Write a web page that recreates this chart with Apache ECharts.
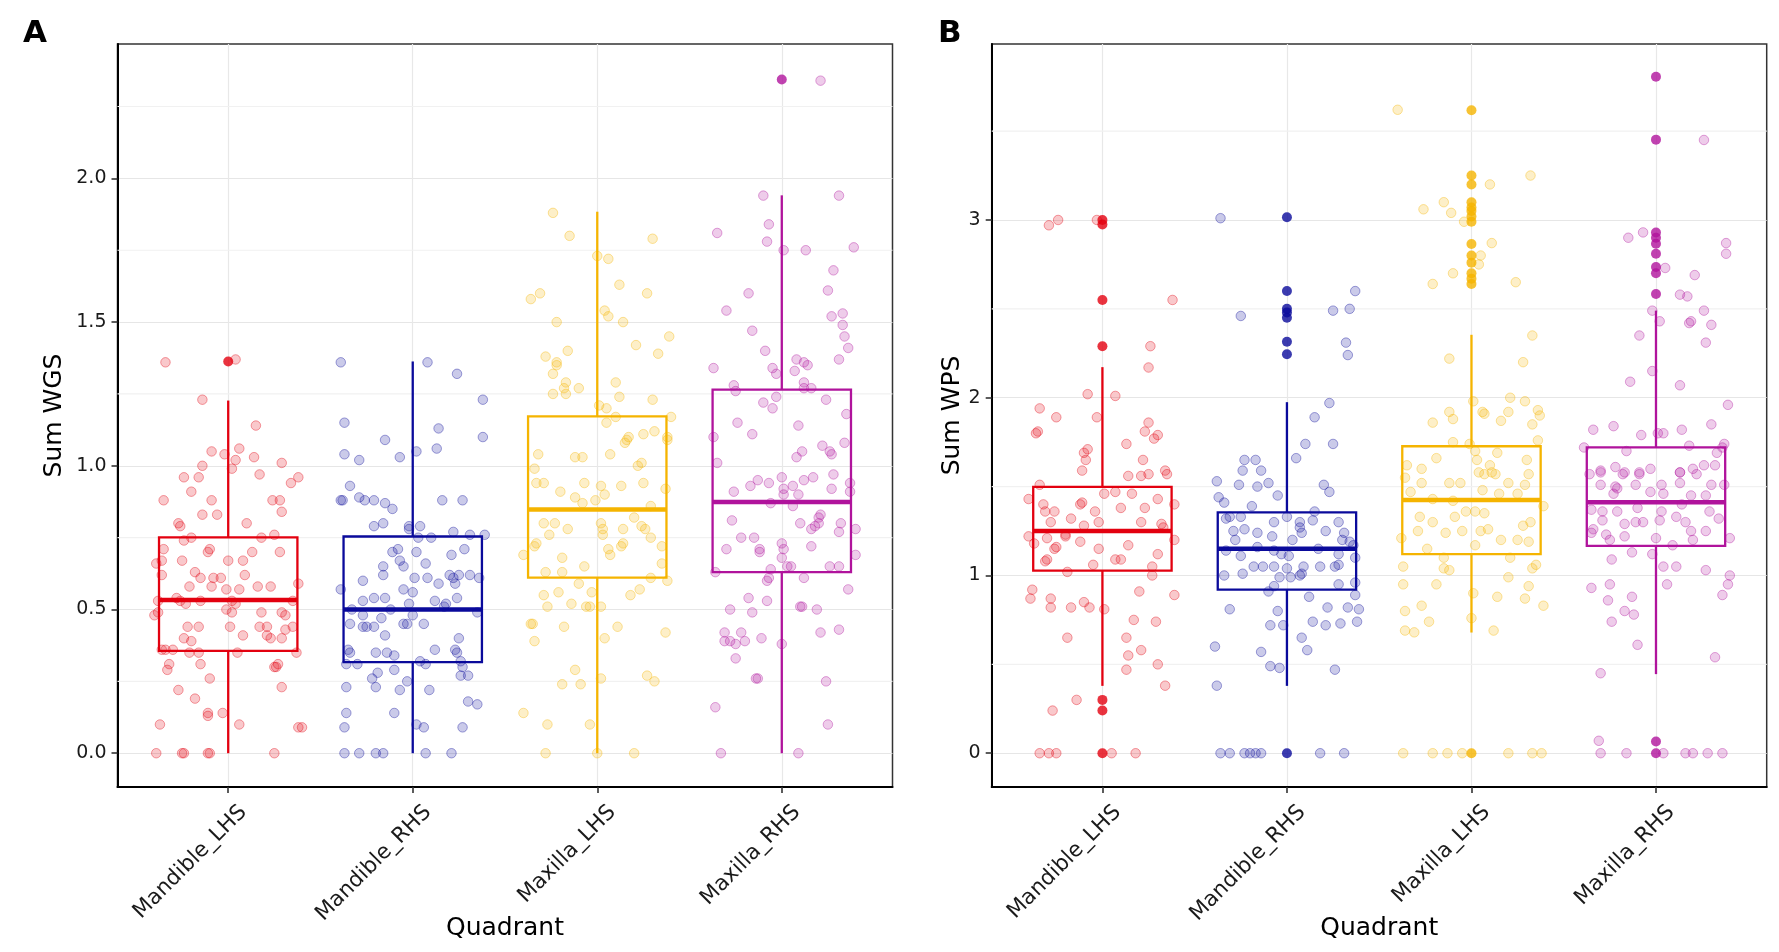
<!DOCTYPE html>
<html>
<head>
<meta charset="utf-8">
<title>Sum WGS / Sum WPS by quadrant</title>
<script src="https://cdn.jsdelivr.net/npm/echarts@6.0.0/dist/echarts.min.js"></script>
<style>
html, body { margin: 0; padding: 0; background: #fff; }
#main { width: 1779px; height: 952px; }
</style>
</head>
<body>
<div id="main"></div>
<script>
// categories
var quadrants = ['Mandible_LHS', 'Mandible_RHS', 'Maxilla_LHS', 'Maxilla_RHS'];
var palette = ['#E3000F', '#0A0A9B', '#F5B400', '#B0139C'];

// box stats per quadrant: [lower whisker, Q1, median, Q3, upper whisker]
var wgsBoxes = [
    [0, 0.356, 0.533, 0.751, 1.227],
    [0, 0.317, 0.500, 0.754, 1.363],
    [0, 0.611, 0.848, 1.172, 1.884],
    [0, 0.630, 0.874, 1.265, 1.941]
];
var wpsBoxes = [
    [0.379, 1.027, 1.250, 1.498, 2.172],
    [0.379, 0.920, 1.150, 1.355, 1.975],
    [0.679, 1.120, 1.425, 1.727, 2.354],
    [0.445, 1.167, 1.412, 1.721, 2.490]
];

// outliers: [quadrant index, value]
var wgsOutliers = [[0, 1.363], [3, 2.344]];
var wpsOutliers = [
    [0, 3.0], [0, 2.975], [0, 2.55], [0, 2.29], [0, 0.30], [0, 0.24], [0, 0],
    [1, 3.015], [1, 2.60], [1, 2.50], [1, 2.48], [1, 2.45], [1, 2.315], [1, 2.245], [1, 0],
    [2, 3.617], [2, 3.25], [2, 3.20], [2, 3.10], [2, 3.07], [2, 3.05], [2, 3.02], [2, 2.99],
    [2, 2.865], [2, 2.80], [2, 2.76], [2, 2.70], [2, 2.67], [2, 2.64], [2, 0],
    [3, 3.806], [3, 3.452], [3, 2.93], [3, 2.90], [3, 2.866], [3, 2.81], [3, 2.735], [3, 2.70], [3, 2.584], [3, 0.066], [3, 0]
];

// jittered points: [horizontal jitter (category units), value]
var wgsMandibleLHS = [[-0.34,1.36],[0.04,1.37],[-0.14,1.23],[0.15,1.14],[-0.09,1.05],[0.06,1.06],[-0.02,1.04],[0.14,1.03],[0.29,1.01],[0.04,1.02],[-0.14,1.0],[0.02,0.99],
    [-0.24,0.96],[-0.16,0.96],[0.17,0.97],[0.38,0.96],[0.34,0.94],[-0.2,0.91],[-0.35,0.88],[-0.09,0.88],[0.24,0.88],[0.28,0.88],[-0.14,0.83],[-0.06,0.83],[0.29,0.84],[0.1,0.8],[-0.27,0.8],[-0.26,0.79],
    [-0.2,0.75],[0.18,0.75],[0.25,0.76],[-0.24,0.74],[-0.35,0.71],[-0.1,0.71],[-0.11,0.7],[0.13,0.7],[0.28,0.7],[-0.25,0.67],[-0.39,0.66],[-0.36,0.67],[0.0,0.67],[0.08,0.67],[-0.18,0.63],[-0.36,0.62],
    [0.09,0.62],[-0.15,0.61],[-0.08,0.61],[-0.04,0.61],[0.38,0.59],[-0.21,0.58],[-0.09,0.58],[-0.01,0.57],[0.06,0.57],[0.16,0.58],[0.23,0.58],[-0.28,0.54],[-0.26,0.53],[-0.15,0.53],[0.02,0.53],
    [-0.38,0.53],[0.35,0.53],[-0.23,0.52],[0.04,0.52],[-0.38,0.49],[-0.4,0.48],[-0.01,0.5],[0.02,0.49],[0.18,0.49],[0.29,0.49],[0.31,0.48],[-0.22,0.44],[-0.16,0.44],[0.01,0.44],[0.17,0.44],
    [0.21,0.44],[0.35,0.44],[0.31,0.43],[0.08,0.41],[0.21,0.41],[0.23,0.4],[-0.24,0.4],[-0.2,0.39],[0.29,0.4],[-0.36,0.36],[-0.34,0.36],[-0.3,0.36],[-0.21,0.35],[-0.16,0.35],[0.05,0.35],[0.37,0.35],
    [-0.32,0.31],[-0.15,0.31],[-0.33,0.29],[0.27,0.31],[0.25,0.3],[0.26,0.3],[-0.1,0.26],[-0.27,0.22],[0.29,0.23],[-0.18,0.19],[-0.11,0.14],[-0.11,0.13],[-0.03,0.14],[-0.37,0.1],[0.06,0.1],
    [0.38,0.09],[0.4,0.09],[-0.39,0],[-0.24,0],[-0.25,0],[-0.11,0],[-0.1,0],[0.25,0]];
var wgsMandibleRHS = [[-0.39,1.36],[0.08,1.36],[0.24,1.32],[0.38,1.23],[-0.37,1.15],[0.14,1.13],[-0.15,1.09],[0.38,1.1],[-0.37,1.04],[-0.29,1.02],[-0.07,1.03],[0.02,1.05],[0.13,1.06],
    [-0.34,0.93],[-0.39,0.88],[-0.38,0.88],[-0.29,0.89],[-0.26,0.88],[-0.21,0.88],[-0.15,0.87],[-0.11,0.85],[0.16,0.88],[0.27,0.88],[-0.21,0.79],[-0.16,0.8],[-0.02,0.79],[0.04,0.79],[-0.02,0.78],
    [0.22,0.77],[0.31,0.76],[0.39,0.76],[0.03,0.75],[0.1,0.75],[0.28,0.71],[-0.11,0.7],[-0.08,0.71],[0.02,0.7],[0.21,0.69],[-0.07,0.67],[0.07,0.66],[-0.16,0.65],[-0.05,0.65],[-0.27,0.6],[-0.16,0.62],
    [0.01,0.61],[0.08,0.61],[0.2,0.62],[0.25,0.62],[0.22,0.61],[0.31,0.62],[0.36,0.61],[0.23,0.59],[0.14,0.59],[-0.39,0.57],[-0.05,0.57],[0.0,0.56],[-0.21,0.54],[-0.15,0.54],[-0.27,0.53],[0.12,0.53],
    [0.24,0.54],[0.18,0.52],[-0.02,0.52],[-0.33,0.5],[-0.12,0.5],[0.17,0.51],[0.35,0.49],[-0.27,0.48],[-0.17,0.47],[0.0,0.48],[-0.34,0.45],[-0.27,0.44],[-0.25,0.44],[-0.21,0.44],[-0.05,0.45],
    [-0.03,0.45],[0.06,0.45],[-0.15,0.41],[0.25,0.4],[0.12,0.36],[0.23,0.36],[0.24,0.35],[-0.35,0.36],[-0.34,0.35],[-0.2,0.35],[-0.14,0.35],[-0.1,0.34],[0.26,0.32],[-0.36,0.31],[-0.3,0.31],[0.04,0.32],
    [0.07,0.31],[0.27,0.3],[-0.19,0.28],[-0.1,0.29],[-0.22,0.26],[0.26,0.27],[0.3,0.27],[-0.03,0.25],[-0.36,0.23],[-0.2,0.23],[-0.07,0.22],[0.09,0.22],[0.3,0.18],[0.35,0.17],[-0.36,0.14],[-0.1,0.14],
    [0.02,0.1],[0.06,0.09],[-0.37,0.09],[0.27,0.09],[-0.37,0],[-0.29,0],[-0.2,0],[-0.16,0],[0.07,0],[0.21,0]];
var wgsMaxillaLHS = [[-0.24,1.88],[-0.15,1.8],[0.3,1.79],[0.0,1.73],[0.06,1.72],[0.12,1.63],[0.27,1.6],[-0.36,1.58],[-0.31,1.6],[0.04,1.54],[0.06,1.52],[0.14,1.5],[-0.22,1.5],[0.39,1.45],
    [0.21,1.42],[-0.16,1.4],[0.33,1.39],[-0.28,1.38],[-0.22,1.36],[-0.22,1.35],[-0.24,1.32],[-0.17,1.29],[0.1,1.29],[-0.1,1.27],[-0.18,1.27],[-0.24,1.25],[-0.17,1.25],[0.12,1.24],[0.3,1.23],
    [0.01,1.21],[0.05,1.2],[0.1,1.17],[0.4,1.17],[0.05,1.15],[0.38,1.1],[0.38,1.09],[0.31,1.12],[0.25,1.11],[0.17,1.1],[0.15,1.08],[0.16,1.09],[-0.32,1.04],[-0.12,1.03],[-0.08,1.03],[0.07,1.04],
    [0.24,1.01],[0.22,1.0],[-0.34,0.99],[-0.33,0.94],[-0.29,0.94],[-0.07,0.94],[0.02,0.93],[0.13,0.93],[0.25,0.94],[0.37,0.92],[-0.2,0.91],[-0.12,0.89],[-0.01,0.88],[0.04,0.9],[-0.08,0.87],
    [0.29,0.86],[0.2,0.82],[-0.29,0.8],[-0.23,0.8],[0.02,0.8],[0.03,0.78],[0.14,0.78],[0.24,0.79],[0.26,0.78],[-0.16,0.78],[-0.26,0.76],[0.03,0.76],[0.29,0.75],[-0.33,0.73],[-0.34,0.72],[0.14,0.73],
    [0.13,0.72],[0.35,0.72],[0.06,0.71],[0.07,0.69],[-0.4,0.69],[-0.19,0.68],[0.35,0.66],[-0.07,0.65],[-0.28,0.63],[-0.19,0.63],[0.29,0.61],[0.38,0.6],[0.23,0.57],[-0.1,0.59],[-0.21,0.56],
    [-0.03,0.56],[0.18,0.55],[-0.29,0.55],[-0.27,0.51],[-0.14,0.52],[-0.06,0.51],[-0.04,0.51],[0.02,0.51],[-0.36,0.45],[-0.35,0.45],[-0.18,0.44],[0.11,0.44],[0.37,0.42],[0.04,0.4],[-0.34,0.39],
    [-0.12,0.29],[0.02,0.26],[0.27,0.27],[0.31,0.25],[-0.19,0.24],[-0.09,0.24],[-0.4,0.14],[-0.27,0.1],[-0.04,0.1],[-0.28,0],[0.0,0],[0.2,0]];
var wgsMaxillaRHS = [[0.21,2.34],[-0.1,1.94],[0.31,1.94],[-0.07,1.84],[-0.35,1.81],[-0.08,1.78],[0.01,1.75],[0.13,1.75],[0.39,1.76],[0.28,1.68],[0.25,1.61],[-0.18,1.6],[-0.3,1.54],[0.33,1.53],
    [0.27,1.52],[0.33,1.49],[-0.16,1.47],[0.34,1.45],[0.36,1.41],[-0.09,1.4],[0.31,1.37],[0.08,1.37],[0.12,1.36],[0.14,1.35],[-0.37,1.34],[-0.05,1.34],[0.07,1.33],[-0.03,1.32],[-0.26,1.28],
    [0.12,1.29],[0.12,1.27],[0.16,1.27],[-0.25,1.26],[-0.03,1.24],[0.24,1.23],[-0.1,1.22],[-0.05,1.2],[0.35,1.18],[-0.24,1.15],[0.09,1.14],[-0.16,1.11],[-0.37,1.1],[0.34,1.08],[0.22,1.07],
    [0.26,1.05],[0.27,1.04],[0.11,1.05],[0.08,1.03],[-0.35,1.01],[-0.13,0.95],[-0.07,0.94],[0.0,0.96],[0.06,0.93],[0.12,0.95],[0.17,0.96],[0.28,0.97],[0.37,0.94],[-0.26,0.91],[-0.17,0.93],
    [0.01,0.92],[0.27,0.92],[0.37,0.91],[0.01,0.9],[0.09,0.9],[-0.06,0.87],[0.06,0.86],[0.21,0.83],[0.2,0.82],[-0.27,0.81],[0.1,0.8],[0.2,0.8],[0.18,0.79],[0.16,0.78],[0.32,0.8],[0.31,0.77],
    [0.4,0.78],[-0.22,0.75],[-0.15,0.75],[0.0,0.73],[0.16,0.72],[-0.12,0.71],[-0.12,0.7],[0.01,0.71],[0.0,0.68],[-0.3,0.71],[0.4,0.69],[0.05,0.65],[0.03,0.65],[0.26,0.65],[0.31,0.65],[-0.06,0.64],
    [-0.36,0.63],[0.12,0.61],[-0.07,0.61],[-0.08,0.6],[0.36,0.57],[-0.18,0.54],[-0.08,0.53],[-0.28,0.5],[-0.16,0.49],[0.1,0.51],[0.11,0.51],[0.19,0.5],[-0.31,0.42],[-0.22,0.42],[-0.31,0.39],
    [-0.28,0.39],[-0.25,0.38],[-0.2,0.39],[-0.11,0.4],[0.0,0.38],[0.21,0.42],[0.31,0.43],[-0.25,0.33],[-0.14,0.26],[-0.13,0.26],[0.24,0.25],[-0.36,0.16],[0.25,0.1],[-0.33,0],[0.09,0]];

var wpsMandibleLHS = [[-0.29,2.97],[-0.24,3.0],[-0.03,3.0],[0.38,2.55],[0.26,2.29],[0.25,2.17],[-0.08,2.02],[0.07,2.01],[-0.34,1.94],[-0.25,1.89],[-0.03,1.89],[-0.36,1.8],[-0.35,1.81],
    [0.25,1.86],[0.23,1.81],[0.3,1.79],[0.28,1.77],[0.13,1.74],[-0.1,1.69],[-0.09,1.65],[-0.08,1.71],[0.22,1.65],[-0.11,1.59],[0.34,1.59],[0.35,1.57],[0.14,1.56],[0.21,1.56],[0.25,1.57],
    [-0.34,1.51],[-0.4,1.43],[0.01,1.46],[0.07,1.47],[0.16,1.46],[0.3,1.43],[-0.32,1.4],[-0.12,1.4],[-0.11,1.41],[0.1,1.38],[0.39,1.4],[-0.31,1.36],[-0.26,1.36],[-0.04,1.36],[0.23,1.38],
    [-0.28,1.3],[-0.17,1.32],[-0.1,1.28],[-0.02,1.3],[0.21,1.3],[0.32,1.29],[0.33,1.27],[-0.2,1.23],[-0.2,1.22],[-0.4,1.22],[-0.3,1.21],[-0.12,1.19],[0.39,1.2],[-0.37,1.18],[-0.26,1.15],
    [-0.25,1.16],[-0.02,1.15],[0.14,1.17],[0.3,1.12],[-0.3,1.09],[-0.31,1.08],[0.07,1.09],[0.1,1.09],[-0.05,1.06],[0.27,1.05],[-0.19,1.02],[0.27,1.0],[-0.38,0.92],[-0.39,0.87],[0.39,0.89],
    [0.2,0.91],[-0.28,0.87],[-0.28,0.82],[-0.17,0.82],[-0.1,0.85],[-0.07,0.82],[0.01,0.81],[0.17,0.75],[0.29,0.74],[-0.19,0.65],[0.13,0.65],[0.21,0.58],[0.14,0.55],[0.3,0.5],[0.13,0.47],
    [0.34,0.38],[-0.14,0.3],[-0.27,0.24],[-0.34,0],[-0.29,0],[-0.25,0],[0.05,0],[0.18,0]];
var wpsMandibleRHS = [[-0.36,3.01],[-0.25,2.46],[0.25,2.49],[0.34,2.5],[0.37,2.6],[0.32,2.31],[0.33,2.24],[0.23,1.97],[0.15,1.89],[0.1,1.74],[0.25,1.74],[0.05,1.66],[-0.23,1.65],
    [-0.17,1.65],[-0.24,1.59],[-0.14,1.59],[-0.38,1.53],[-0.1,1.52],[-0.26,1.51],[-0.16,1.5],[0.2,1.51],[0.23,1.47],[-0.37,1.44],[-0.34,1.41],[-0.05,1.45],[-0.19,1.39],[-0.31,1.33],[-0.25,1.33],
    [-0.33,1.32],[0.0,1.33],[0.15,1.36],[-0.07,1.3],[0.07,1.3],[0.07,1.27],[0.08,1.24],[0.14,1.31],[0.28,1.3],[-0.23,1.26],[-0.29,1.25],[-0.16,1.24],[0.21,1.25],[0.31,1.24],[-0.28,1.2],
    [-0.08,1.22],[0.03,1.2],[0.3,1.2],[0.34,1.19],[0.36,1.17],[-0.16,1.16],[-0.07,1.14],[-0.03,1.12],[0.01,1.11],[0.17,1.15],[-0.25,1.11],[-0.33,1.14],[0.28,1.12],[0.37,1.1],[-0.18,1.05],
    [-0.13,1.05],[-0.07,1.05],[0.0,1.04],[0.09,1.05],[0.18,1.05],[0.26,1.05],[0.28,1.06],[0.08,1.01],[0.07,1.0],[-0.34,1.0],[-0.24,1.01],[-0.04,0.99],[0.02,0.99],[0.37,0.96],[-0.1,0.91],
    [-0.07,0.94],[0.28,0.95],[0.12,0.88],[0.37,0.89],[-0.31,0.81],[-0.05,0.8],[0.22,0.82],[0.33,0.82],[0.39,0.81],[-0.09,0.72],[-0.02,0.72],[0.14,0.74],[0.21,0.72],[0.29,0.73],[0.38,0.74],
    [0.08,0.65],[-0.39,0.6],[0.11,0.58],[-0.14,0.57],[-0.09,0.49],[-0.04,0.48],[0.26,0.47],[-0.38,0.38],[-0.36,0],[-0.31,0],[-0.23,0],[-0.2,0],[-0.17,0],[-0.14,0],[0.18,0],[0.31,0]];
var wpsMaxillaLHS = [[-0.4,3.62],[0.32,3.25],[0.1,3.2],[-0.15,3.1],[-0.26,3.06],[-0.11,3.04],[-0.04,2.99],[0.11,2.87],[0.05,2.8],[0.04,2.75],[-0.1,2.7],[-0.21,2.64],[0.24,2.65],[0.33,2.35],
    [-0.12,2.22],[0.28,2.2],[0.01,1.98],[0.21,2.0],[0.29,1.98],[0.36,1.93],[0.37,1.9],[-0.12,1.92],[0.07,1.91],[0.06,1.92],[0.2,1.92],[-0.1,1.88],[-0.21,1.86],[0.16,1.87],[0.33,1.85],[0.36,1.76],
    [-0.1,1.75],[-0.01,1.74],[0.14,1.69],[0.02,1.7],[-0.19,1.66],[0.3,1.65],[0.1,1.62],[0.03,1.65],[-0.35,1.62],[-0.27,1.6],[0.04,1.58],[0.11,1.58],[0.07,1.57],[0.13,1.57],[0.31,1.57],
    [-0.36,1.55],[-0.27,1.52],[-0.12,1.52],[-0.06,1.52],[0.2,1.52],[0.29,1.51],[0.06,1.48],[-0.33,1.47],[0.15,1.46],[0.25,1.46],[-0.21,1.43],[-0.1,1.42],[0.39,1.39],[-0.03,1.36],[0.02,1.36],
    [-0.09,1.33],[-0.28,1.33],[0.07,1.35],[-0.21,1.3],[0.32,1.3],[0.28,1.28],[-0.29,1.25],[-0.05,1.25],[0.05,1.25],[0.09,1.26],[-0.38,1.21],[-0.14,1.24],[0.16,1.2],[0.25,1.2],[0.31,1.19],
    [0.02,1.17],[-0.24,1.15],[-0.15,1.1],[0.21,1.1],[-0.37,1.05],[-0.15,1.04],[-0.12,1.03],[0.33,1.04],[0.35,1.06],[0.2,0.99],[-0.37,0.95],[-0.19,0.95],[0.31,0.94],[0.01,0.9],[0.14,0.88],
    [0.29,0.87],[0.39,0.83],[-0.27,0.83],[-0.36,0.8],[0.0,0.76],[-0.23,0.74],[-0.36,0.69],[-0.31,0.68],[0.12,0.69],[-0.37,0],[-0.21,0],[-0.13,0],[-0.05,0],[0.2,0],[0.33,0],[0.38,0]];
var wpsMaxillaRHS = [[0.26,3.45],[-0.15,2.9],[-0.07,2.93],[0.38,2.87],[0.38,2.81],[0.05,2.73],[0.21,2.69],[0.13,2.58],[0.17,2.57],[-0.02,2.49],[0.26,2.49],[0.02,2.43],[0.19,2.43],[0.18,2.42],
    [0.3,2.41],[-0.09,2.35],[0.27,2.31],[-0.02,2.15],[-0.14,2.09],[0.13,2.07],[0.39,1.96],[-0.34,1.82],[-0.23,1.84],[-0.08,1.79],[0.01,1.8],[0.04,1.8],[0.14,1.82],[0.3,1.85],[-0.39,1.72],
    [-0.16,1.7],[0.18,1.73],[0.37,1.74],[0.36,1.72],[-0.3,1.59],[-0.22,1.61],[-0.17,1.58],[-0.09,1.58],[-0.03,1.6],[0.13,1.58],[0.2,1.6],[0.26,1.62],[0.32,1.62],[0.33,1.69],[-0.36,1.57],
    [-0.3,1.58],[-0.18,1.57],[-0.09,1.57],[0.13,1.58],[0.22,1.57],[-0.3,1.51],[-0.21,1.49],[-0.22,1.5],[-0.11,1.51],[0.03,1.51],[0.13,1.52],[0.3,1.51],[0.37,1.51],[-0.23,1.46],[-0.03,1.47],
    [0.04,1.46],[0.19,1.45],[0.27,1.45],[0.14,1.4],[-0.35,1.37],[-0.29,1.36],[-0.21,1.36],[-0.1,1.38],[0.03,1.36],[0.29,1.36],[0.34,1.32],[-0.29,1.31],[-0.11,1.3],[-0.17,1.29],[-0.07,1.3],
    [0.02,1.31],[0.11,1.33],[0.16,1.3],[0.19,1.25],[0.27,1.25],[-0.34,1.26],[-0.35,1.24],[-0.27,1.23],[-0.25,1.2],[-0.17,1.22],[0.0,1.21],[0.4,1.21],[0.09,1.17],[0.2,1.2],[-0.13,1.13],
    [-0.24,1.09],[-0.02,1.12],[0.04,1.05],[0.11,1.05],[0.27,1.03],[0.4,1.0],[-0.35,0.93],[-0.25,0.95],[-0.13,0.88],[0.06,0.95],[0.39,0.95],[0.36,0.89],[-0.26,0.86],[-0.17,0.8],[-0.12,0.78],
    [-0.24,0.74],[-0.1,0.61],[0.32,0.54],[-0.3,0.45],[-0.31,0.07],[-0.3,0],[-0.16,0],[0.04,0],[0.16,0],[0.2,0],[0.28,0],[0.36,0]];

// axis ranges and gridlines
var wgsRange = [-0.1175, 2.4675];
var wpsRange = [-0.19, 3.99];
var wgsMinor = [0.25, 0.75, 1.25, 1.75, 2.25];
var wpsMinor = [0.5, 1.5, 2.5, 3.5];

var xMin = -0.6, xMax = 3.6;
var panelW = 775, panelH = 743, panelTop = 44;
var unit = panelW / (xMax - xMin);
var leftA = 117.5, leftB = 991.7;
// rotated tick labels hang slightly to the right of their ticks
var labelDx = 3.2;

function rgba(hex, a) {
    var n = parseInt(hex.slice(1), 16);
    return 'rgba(' + (n >> 16 & 255) + ',' + (n >> 8 & 255) + ',' + (n & 255) + ',' + a + ')';
}

// 箱线图
function renderBox(params, api) {
    var i = api.value(0);
    var c = palette[i];
    var half = 0.375;
    var lo = api.coord([i, api.value(1)]);
    var q1 = api.coord([i, api.value(2)]);
    var md = api.coord([i, api.value(3)]);
    var q3 = api.coord([i, api.value(4)]);
    var hi = api.coord([i, api.value(5)]);
    var l = api.coord([i - half, 0])[0];
    var r = api.coord([i + half, 0])[0];
    return {
        type: 'group',
        children: [
            { type: 'line', shape: { x1: hi[0], y1: hi[1], x2: q3[0], y2: q3[1] }, style: { stroke: c, lineWidth: 2.3 } },
            { type: 'line', shape: { x1: q1[0], y1: q1[1], x2: lo[0], y2: lo[1] }, style: { stroke: c, lineWidth: 2.3 } },
            { type: 'rect', shape: { x: l, y: q3[1], width: r - l, height: q1[1] - q3[1] }, style: { fill: 'none', stroke: c, lineWidth: 2.3 } },
            { type: 'line', shape: { x1: l, y1: md[1], x2: r, y2: md[1] }, style: { stroke: c, lineWidth: 4.6 } }
        ]
    };
}

// 次网格线
function renderMinor(params, api) {
    var p1 = api.coord([xMin, api.value(0)]);
    var p2 = api.coord([xMax, api.value(0)]);
    return { type: 'line', shape: { x1: p1[0], y1: p1[1], x2: p2[0], y2: p2[1] }, style: { stroke: '#f1f1f1', lineWidth: 1.2 } };
}

function buildSeries(axisIdx, boxes, groups, outliers, minor) {
    var list = [];
    list.push({
        type: 'custom', xAxisIndex: axisIdx, yAxisIndex: axisIdx, z: 1, silent: true,
        renderItem: renderMinor,
        encode: { y: 0 },
        data: minor.map(function (v) { return [v]; })
    });
    list.push({
        type: 'custom', xAxisIndex: axisIdx, yAxisIndex: axisIdx, z: 2, silent: true,
        renderItem: renderBox,
        encode: { x: 0, y: [1, 2, 3, 4, 5] },
        data: boxes.map(function (b, i) { return [i].concat(b); })
    });
    list.push({
        type: 'scatter', xAxisIndex: axisIdx, yAxisIndex: axisIdx, z: 3, silent: true,
        symbolSize: 10,
        data: outliers.map(function (o) {
            return { value: [o[0], o[1]], itemStyle: { color: palette[o[0]] } };
        })
    });
    groups.forEach(function (pts, i) {
        list.push({
            type: 'scatter', xAxisIndex: axisIdx, yAxisIndex: axisIdx, z: 4, silent: true,
            symbolSize: 9.5,
            itemStyle: { color: rgba(palette[i], 0.27), borderColor: rgba(palette[i], 0.47), borderWidth: 1 },
            data: pts.map(function (p) { return [i + p[0], p[1]]; })
        });
    });
    return list;
}

function mainX(gridIdx) {
    return {
        gridIndex: gridIdx, type: 'value', min: xMin, max: xMax,
        axisLine: { show: true, onZero: false, lineStyle: { color: '#000', width: 2 } },
        axisTick: { show: false }, axisLabel: { show: false }, splitLine: { show: false },
        name: 'Quadrant', nameLocation: 'middle', nameGap: 129,
        nameTextStyle: { fontSize: 25, color: '#000' }
    };
}

// ticks and vertical gridlines at the categories
function tickX(gridIdx) {
    return {
        gridIndex: gridIdx, type: 'category', data: quadrants, boundaryGap: false,
        axisLine: { show: false, onZero: false },
        axisTick: { show: true, interval: 0, length: 6, lineStyle: { color: '#333', width: 1.6 } },
        axisLabel: { show: false },
        splitLine: { show: true, interval: 0, lineStyle: { color: '#e8e8e8', width: 1.2 } }
    };
}

// category labels only
function labelX(gridIdx) {
    return {
        gridIndex: gridIdx, type: 'category', data: quadrants, boundaryGap: false,
        axisLine: { show: false, onZero: false }, axisTick: { show: false }, splitLine: { show: false },
        axisLabel: { interval: 0, rotate: 45, fontSize: 21.5, color: '#1a1a1a', margin: 10, verticalAlign: 'top', lineHeight: 34 }
    };
}

function mainY(gridIdx, range, title, gap, digits) {
    return {
        gridIndex: gridIdx, type: 'value', min: range[0], max: range[1],
        axisLine: { show: true, onZero: false, lineStyle: { color: '#000', width: 2 } },
        axisTick: { show: true, length: 6, lineStyle: { color: '#333', width: 1.6 } },
        axisLabel: {
            fontSize: 19, color: '#1a1a1a', margin: 11, showMinLabel: false, showMaxLabel: false,
            formatter: function (v) { return v.toFixed(digits); }
        },
        splitLine: { show: true, showMinLine: false, showMaxLine: false, lineStyle: { color: '#e6e6e6', width: 1.2 } },
        name: title, nameLocation: 'middle', nameRotate: 90, nameGap: gap,
        nameTextStyle: { fontSize: 25, color: '#000' }
    };
}

function hiddenY(gridIdx) {
    return { gridIndex: gridIdx, type: 'value', show: false, min: 0, max: 1 };
}

var myChart = echarts.init(document.getElementById('main'));

var option = {
    animation: false,
    backgroundColor: '#fff',
    textStyle: { fontFamily: 'DejaVu Sans' },
    title: [
        { text: 'A', left: 23, top: 18, padding: 0, textStyle: { fontSize: 31, fontWeight: 'bold', color: '#000' } },
        { text: 'B', left: 938, top: 18, padding: 0, textStyle: { fontSize: 31, fontWeight: 'bold', color: '#000' } }
    ],
    grid: [
        { left: leftA, top: panelTop, width: panelW, height: panelH, show: true, borderColor: '#333', borderWidth: 1.5, backgroundColor: 'transparent' },
        { left: leftA + 0.6 * unit, top: panelTop, width: 3 * unit, height: panelH },
        { left: leftA + 0.6 * unit + labelDx, top: panelTop, width: 3 * unit, height: panelH },
        { left: leftB, top: panelTop, width: panelW, height: panelH, show: true, borderColor: '#333', borderWidth: 1.5, backgroundColor: 'transparent' },
        { left: leftB + 0.6 * unit, top: panelTop, width: 3 * unit, height: panelH },
        { left: leftB + 0.6 * unit + labelDx, top: panelTop, width: 3 * unit, height: panelH }
    ],
    xAxis: [mainX(0), tickX(1), labelX(2), mainX(3), tickX(4), labelX(5)],
    yAxis: [
        mainY(0, wgsRange, 'Sum WGS', 51, 1),
        hiddenY(1),
        hiddenY(2),
        mainY(3, wpsRange, 'Sum WPS', 26, 0),
        hiddenY(4),
        hiddenY(5)
    ],
    series: [].concat(
        buildSeries(0, wgsBoxes, [wgsMandibleLHS, wgsMandibleRHS, wgsMaxillaLHS, wgsMaxillaRHS], wgsOutliers, wgsMinor),
        buildSeries(3, wpsBoxes, [wpsMandibleLHS, wpsMandibleRHS, wpsMaxillaLHS, wpsMaxillaRHS], wpsOutliers, wpsMinor)
    )
};

myChart.setOption(option);
</script>
</body>
</html>
